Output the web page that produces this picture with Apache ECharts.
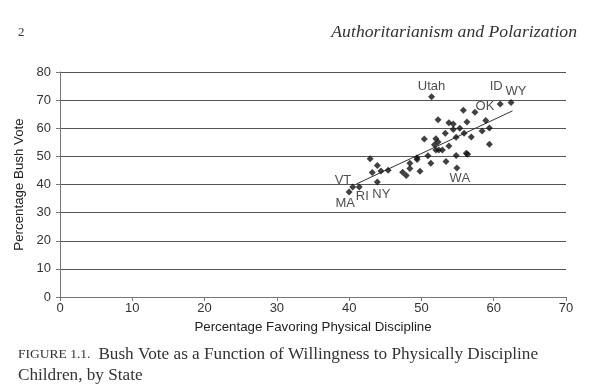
<!DOCTYPE html>
<html>
<head>
<meta charset="utf-8">
<script src="https://cdn.jsdelivr.net/npm/echarts@6/dist/echarts.min.js"></script>
<style>html,body{margin:0;padding:0;background:#fff}#c{width:593px;height:384px}</style>
</head>
<body>
<div id="c"></div>
<script>
// Percentage favoring physical discipline (x) and Bush vote (y), by state
const xValues = [51.4,60.9,62.4,57.4,55.8,58.9,52.3,53.8,54.4,56.3,54.4,55.3,53.3,55.9,58.4,59.4,54.8,56.9,59.4,50.4,52.0,52.3,51.8,53.8,52.0,52.4,52.9,56.2,56.4,54.8,50.9,49.4,49.4,48.4,51.3,53.4,48.4,47.4,47.9,49.8,54.9,42.9,43.9,44.4,43.2,45.4,43.9,40.5,41.4,40.0];
const yValues = [71.2,68.6,69.2,65.7,66.4,62.8,63.0,62.0,61.5,62.2,59.6,60.0,58.2,58.2,59.0,60.1,56.8,56.9,54.3,56.2,56.3,55.1,54.1,53.7,52.3,52.3,52.3,51.1,50.8,50.3,50.2,49.5,48.9,47.6,47.6,48.2,45.7,44.4,43.2,44.7,45.9,49.2,46.8,44.8,44.3,45.1,40.9,39.1,39.1,37.3];
const pointNames = ['Utah','ID','WY','OK','','','','','','','','','','','','','','','','','','','','','','','','','','','','','','','','','','','','','WA','','','','','','NY','VT','RI','MA'];
const xTicks = [0,10,20,30,40,50,60,70];
const yTicks = [0,10,20,30,40,50,60,70,80];

// label placement (style only)
const labelStyle = {
  'Utah': {position:'top', offset:[0,2], distance:2},
  'ID':   {position:'top', offset:[-4,-4], distance:4},
  'WY':   {position:'top', offset:[5,2], distance:3},
  'OK':   {position:'top', offset:[10,6], distance:2},
  'WA':   {position:'bottom', offset:[3,-3], distance:4},
  'NY':   {position:'bottom', offset:[4,-1], distance:3},
  'VT':   {position:'left', offset:[3,-7], distance:1},
  'RI':   {position:'bottom', offset:[3,-4], distance:3},
  'MA':   {position:'bottom', offset:[-4,-2], distance:3}
};

const pts = xValues.map((x,i)=>{
  const d = {value:[x,yValues[i]], name:pointNames[i]};
  if (pointNames[i]) {
    d.label = Object.assign({show:true, formatter:'{b}', color:'#222', fontSize:13, fontFamily:'Liberation Sans, Arial, sans-serif'}, labelStyle[pointNames[i]]);
  }
  return d;
});

// least-squares fit
const n = xValues.length;
const mx = xValues.reduce((a,b)=>a+b,0)/n;
const my = yValues.reduce((a,b)=>a+b,0)/n;
let sxy=0,sxx=0;
for (let i=0;i<n;i++){sxy+=(xValues[i]-mx)*(yValues[i]-my);sxx+=(xValues[i]-mx)**2;}
const slope = sxy/sxx, icpt = my - slope*mx;
const x0 = Math.min(...xValues)+1, x1 = Math.max(...xValues)+0.2;
const fit = [[x0, icpt+slope*x0],[x1, icpt+slope*x1]];

const chart = echarts.init(document.getElementById('c'), null, {renderer:'canvas'});
const font = 'Liberation Sans, Arial, sans-serif';
chart.setOption({
  animation:false,
  backgroundColor:'#fff',
  graphic:[
    {type:'text', left:18, top:26, style:{text:'2', font:'13px "Liberation Serif", serif', fill:'#333'}},
    {type:'text', right:16, top:23, style:{text:'Authoritarianism and Polarization', font:'italic 17.7px "Liberation Serif", serif', fill:'#333'}},
    {type:'text', left:18, top:346, style:{
      text:'{sc|FIGURE 1.1.}{t|Bush Vote as a Function of Willingness to Physically Discipline}',
      rich:{sc:{font:'13.5px "Liberation Serif", serif', fill:'#333', padding:[0,8,0,0]}, t:{font:'17.2px "Liberation Serif", serif', fill:'#333'}}
    }},
    {type:'text', left:18, top:367, style:{text:'Children, by State', font:'17.2px "Liberation Serif", serif', fill:'#333'}}
  ],
  grid:{left:60, right:27, top:72, bottom:87, containLabel:false},
  xAxis:{
    type:'value', min:0, max:70, interval:10,
    name:'Percentage Favoring Physical Discipline', nameLocation:'middle', nameGap:24,
    nameTextStyle:{fontSize:13.3, color:'#222', fontFamily:font},
    axisLine:{show:true, lineStyle:{color:'#777'}},
    axisTick:{show:true, length:4, lineStyle:{color:'#777'}},
    axisLabel:{fontSize:13, color:'#333', fontFamily:font, margin:5, formatter:v=>xTicks.includes(v)?String(v):''},
    splitLine:{show:false}
  },
  yAxis:{
    type:'value', min:0, max:80, interval:10,
    name:'Percentage Bush Vote', nameLocation:'middle', nameGap:32,
    nameTextStyle:{fontSize:13.3, color:'#222', fontFamily:font},
    axisLine:{show:true, lineStyle:{color:'#777'}},
    axisTick:{show:true, length:4, lineStyle:{color:'#777'}},
    axisLabel:{fontSize:13, color:'#333', fontFamily:font, margin:9, formatter:v=>yTicks.includes(v)?String(v):''},
    splitLine:{show:true, lineStyle:{color:'#555', width:1}}
  },
  series:[
    {type:'scatter', data:pts, symbol:'diamond', symbolSize:7, itemStyle:{color:'#111'}, z:3},
    {type:'line', data:fit, symbol:'none', lineStyle:{color:'#333', width:1}, z:2}
  ]
});
</script>
</body>
</html>
